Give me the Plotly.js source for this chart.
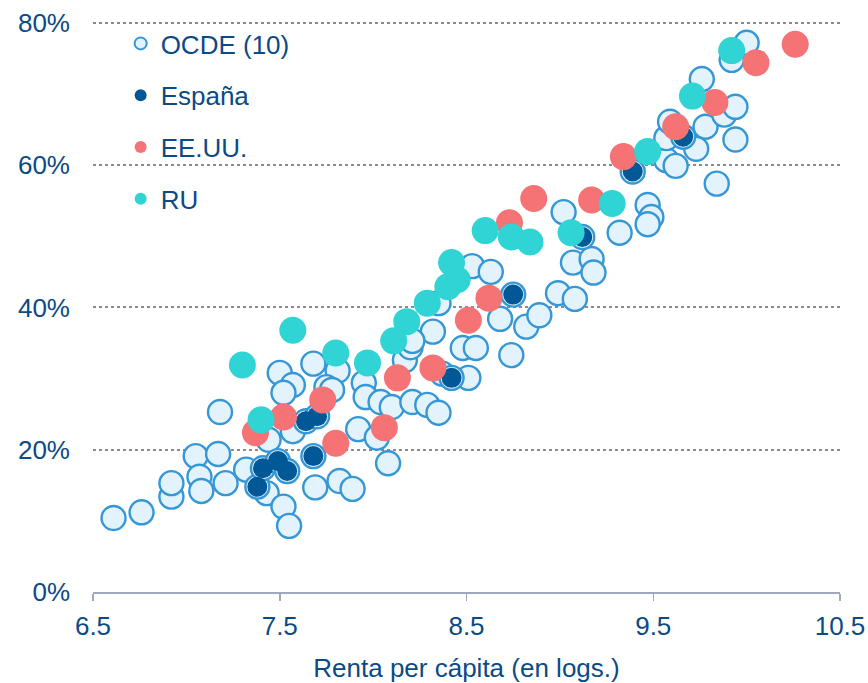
<!DOCTYPE html>
<html>
<head>
<meta charset="utf-8">
<script src="https://cdn.plot.ly/plotly-3.0.1.min.js"></script>
<style>
  html, body { margin: 0; padding: 0; background: #ffffff; }
  #chart { width: 868px; height: 683px; }
</style>
</head>
<body>
<div id="chart"></div>
<script>
// Renta per cápita (log) vs. share (%)
const ocdeX = [6.61, 6.76, 6.92, 6.92, 7.05, 7.17, 7.07, 7.08, 7.21, 7.18, 7.32, 7.43, 7.52, 7.55, 7.69, 7.82, 7.89, 7.92, 8.02, 8.08,
               7.44, 7.57, 7.50, 7.57, 7.52, 7.68, 7.81, 7.75, 7.78, 7.95, 7.96, 8.04, 8.10, 8.21, 8.29, 8.35, 8.17, 8.20, 8.48, 8.55,
               8.51, 8.37, 8.32, 8.21, 8.35, 8.53, 8.63, 8.68, 8.82, 8.89, 8.74, 8.99, 9.08, 9.07, 9.17, 9.18, 9.02, 9.32, 9.47, 9.49,
               9.47, 9.57, 9.62, 9.84, 9.73, 9.94, 9.57, 9.59, 9.78, 9.88, 9.94, 9.76, 9.92, 10.00];
const ocdeY = [10.4, 11.2, 13.4, 15.3, 19.1, 19.4, 16.2, 14.2, 15.3, 25.3, 17.2, 13.9, 12.0, 9.3, 14.7, 15.6, 14.5, 22.9, 21.7, 18.1,
               21.4, 22.6, 30.8, 29.1, 28.0, 32.1, 31.1, 28.8, 28.4, 29.4, 27.4, 26.7, 26.0, 26.7, 26.3, 25.2, 32.6, 34.4, 34.3, 34.3,
               30.1, 30.7, 36.6, 35.3, 40.6, 45.8, 45.0, 38.4, 37.3, 38.9, 33.3, 42.0, 41.2, 46.3, 46.8, 44.9, 53.4, 50.5, 54.4, 52.7,
               51.7, 60.7, 59.9, 57.4, 62.3, 63.6, 63.8, 66.1, 65.4, 67.1, 68.2, 72.1, 74.8, 77.2];

const espX = [7.38, 7.41, 7.49, 7.54, 7.68, 7.64, 7.70, 8.42, 8.75, 9.12, 9.39, 9.66];
const espY = [14.8, 17.4, 18.4, 17.0, 19.1, 24.0, 24.7, 30.1, 41.8, 49.9, 59.1, 64.0];

const usaX = [7.37, 7.52, 7.73, 7.80, 8.06, 8.13, 8.32, 8.51, 8.62, 8.73, 8.86, 9.17, 9.34, 9.62, 9.83, 10.05, 10.26];
const usaY = [22.4, 24.6, 27.0, 20.9, 23.1, 30.1, 31.5, 38.2, 41.3, 51.9, 55.3, 55.1, 61.2, 65.4, 68.8, 74.4, 77.0];

const ukX = [7.30, 7.40, 7.57, 7.80, 7.97, 8.11, 8.18, 8.29, 8.40, 8.42, 8.45, 8.60, 8.74, 8.84, 9.06, 9.28, 9.47, 9.71, 9.92];
const ukY = [31.9, 24.2, 36.8, 33.6, 32.2, 35.3, 38.0, 40.6, 42.9, 46.3, 43.9, 50.8, 49.9, 49.2, 50.5, 54.6, 61.9, 69.7, 76.1];

const seriesNames = ['OCDE (10)', 'España', 'EE.UU.', 'RU'];
const xTicks = [6.5, 7.5, 8.5, 9.5, 10.5];
const xTickLabels = ['6.5', '7.5', '8.5', '9.5', '10.5'];
const yTicks = [0, 20, 40, 60, 80];
const yTickLabels = ['0%', '20%', '40%', '60%', '80%'];

const textColor = '#0b4a87';
const fontFam = 'Liberation Sans, Arial, sans-serif';
const fs = 26;

const traces = [
  {
    x: ocdeX.concat(espX), y: ocdeY.concat(espY), name: seriesNames[0], legendgroup: 'a',
    type: 'scatter', mode: 'markers', cliponaxis: false,
    marker: { size: 24, color: '#e2f3fd', line: { color: '#3597d5', width: 2.4 } }
  },
  {
    x: espX, y: espY, name: seriesNames[1], legendgroup: 'b',
    type: 'scatter', mode: 'markers', cliponaxis: false,
    marker: { size: 20, color: '#005896', line: { width: 0 } }
  },
  {
    x: usaX, y: usaY, name: seriesNames[2], legendgroup: 'c',
    type: 'scatter', mode: 'markers', cliponaxis: false,
    marker: { size: 27, color: '#f57275', line: { width: 0 } }
  },
  {
    x: ukX, y: ukY, name: seriesNames[3], legendgroup: 'd',
    type: 'scatter', mode: 'markers', cliponaxis: false,
    marker: { size: 27, color: '#30d4d5', line: { width: 0 } }
  }
];

const layout = {
  width: 868, height: 683,
  margin: { l: 93, r: 28, t: 20, b: 91, pad: 0 },
  paper_bgcolor: '#ffffff', plot_bgcolor: '#ffffff',
  font: { family: fontFam, size: fs, color: textColor },
  showlegend: true,
  legend: {
    x: 0.037, y: 1.0, xanchor: 'left', yanchor: 'top',
    bgcolor: 'rgba(0,0,0,0)', borderwidth: 0,
    font: { family: fontFam, size: fs, color: textColor },
    itemsizing: 'constant', traceorder: 'grouped', tracegroupgap: 15
  },
  xaxis: {
    range: [6.5, 10.5], tickvals: xTicks, ticktext: xTickLabels,
    showgrid: false, zeroline: false,
    showline: true, linecolor: '#a0a8c0', linewidth: 2,
    ticks: 'outside', ticklen: 7, tickwidth: 1.5, tickcolor: '#a0a8c0',
    tickfont: { family: fontFam, size: fs, color: textColor },
    ticklabelstandoff: 3,
    title: { text: 'Renta per cápita (en logs.)', font: { family: fontFam, size: fs, color: textColor }, standoff: 19 }
  },
  yaxis: {
    range: [0, 80.4], tickvals: yTicks, ticktext: yTickLabels,
    showgrid: true, gridcolor: '#8a8a8a', gridwidth: 2, griddash: 'dot',
    zeroline: false, showline: false, ticks: '',
    tickfont: { family: fontFam, size: fs, color: textColor },
    ticklabelstandoff: 22
  }
};

Plotly.newPlot('chart', traces, layout, { displayModeBar: false, staticPlot: true });
</script>
</body>
</html>
